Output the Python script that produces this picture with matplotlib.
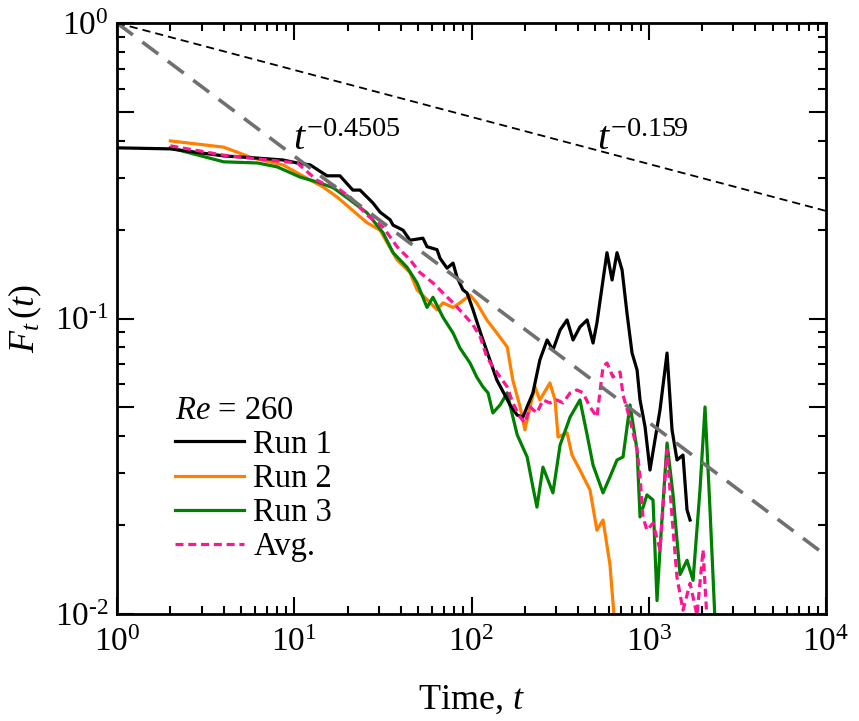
import numpy as np
import matplotlib
matplotlib.use('Agg')
import matplotlib.pyplot as plt
from matplotlib.ticker import LogLocator, NullFormatter

plt.rcParams['font.family'] = ['Liberation Serif', 'DejaVu Serif']
plt.rcParams['mathtext.fontset'] = 'custom'
plt.rcParams['mathtext.rm'] = 'Liberation Serif'
plt.rcParams['mathtext.it'] = 'Liberation Serif:italic'
plt.rcParams['mathtext.bf'] = 'Liberation Serif:bold'

# Run 1 (black)
t_run1 = [1, 2, 4, 6.2, 8.6, 10.4, 12.3, 15.3, 18.1, 21.4, 23.5, 27.8, 30.5, 34.7, 36.1,
          41.1, 45, 53.2, 56.1, 63.9, 66.4, 72.8, 78.7, 82.8, 89.5, 94.4, 102, 112, 127,
          139, 151, 165, 181, 195, 208, 222, 243, 267, 288, 316, 346, 374, 409, 449, 485,
          510, 552, 581, 621, 662, 707, 754, 805, 859, 893, 953, 1016, 1084, 1157, 1268,
          1353, 1443, 1560, 1644, 1710]
F_run1 = [0.378, 0.375, 0.355, 0.349, 0.344, 0.336, 0.331, 0.304, 0.304, 0.272, 0.272,
          0.246, 0.229, 0.216, 0.207, 0.199, 0.184, 0.187, 0.175, 0.171, 0.160, 0.148,
          0.154, 0.138, 0.125, 0.122, 0.107, 0.090, 0.0724, 0.0619, 0.0564, 0.0510,
          0.0471, 0.0464, 0.0510, 0.0560, 0.0724, 0.0846, 0.0782, 0.0914, 0.0989, 0.0846,
          0.0936, 0.0989, 0.0826, 0.0966, 0.135, 0.167, 0.135, 0.167, 0.146, 0.104,
          0.0764, 0.0670, 0.0530, 0.0430, 0.0307, 0.0388, 0.0490, 0.0764, 0.0420,
          0.0332, 0.0345, 0.0225, 0.0208]

# Run 2 (orange)
t_run2 = [2, 4, 5.85, 8.64, 12.3, 14.5, 17.4, 18.8, 25.7, 30.5, 38, 45, 49.3, 56.1, 63.9,
          69, 78.7, 86.1, 98.1, 107, 122, 139, 159, 171, 188, 200, 214, 228, 243, 277,
          296, 308, 346, 369, 409, 466, 510, 552, 604, 640]
F_run2 = [0.399, 0.380, 0.349, 0.331, 0.294, 0.279, 0.258, 0.248, 0.211, 0.199, 0.158,
          0.143, 0.125, 0.116, 0.107, 0.113, 0.109, 0.113, 0.120, 0.113, 0.0989, 0.0893,
          0.0801, 0.0619, 0.0502, 0.0420, 0.0502, 0.0587, 0.0530, 0.0605, 0.0530,
          0.0397, 0.0410, 0.0345, 0.0307, 0.0263, 0.0192, 0.0208, 0.0147, 0.0095]

# Run 3 (green)
t_run3 = [2, 4, 6.2, 8.0, 10.8, 13.4, 16.6, 20.6, 25.7, 31.7, 36.1, 43.3, 49.3, 56.1,
          60.6, 69, 78.7, 86.1, 98.1, 107, 116, 124, 132, 145, 159, 169, 181, 206, 222,
          234, 253, 288, 316, 360, 409, 449, 485, 552, 604, 662, 716, 784, 859, 893, 977,
          1057, 1113, 1157, 1268, 1371, 1501, 1644, 1778, 1945, 2077, 2216, 2365]
F_run3 = [0.378, 0.339, 0.336, 0.326, 0.301, 0.290, 0.277, 0.252, 0.228, 0.195, 0.167,
          0.149, 0.132, 0.109, 0.118, 0.101, 0.0893, 0.0794, 0.0707, 0.0634, 0.0587,
          0.0560, 0.0479, 0.0510, 0.0560, 0.0479, 0.0404, 0.0340, 0.0269, 0.0230,
          0.0314, 0.0257, 0.0373, 0.0464, 0.0530, 0.0404, 0.0319, 0.0257, 0.0291,
          0.0332, 0.0340, 0.0510, 0.0359, 0.0213, 0.0253, 0.0243, 0.0111, 0.0165,
          0.0379, 0.0253, 0.0136, 0.0152, 0.0130, 0.0263, 0.0502, 0.0225, 0.0095]

# Average (pink dashed)
t_avg = [2, 4, 6.17, 10.4, 13.4, 14.5, 16.6, 18.8, 20.6, 25.7, 31.7, 38, 45, 51.2, 60.6,
         69, 78.7, 89.5, 102, 112, 122, 132, 145, 159, 171, 188, 200, 214, 234, 253, 277,
         303, 328, 360, 394, 426, 466, 510, 552, 581, 628, 689, 716, 784, 859, 893, 928,
         977, 1057, 1157, 1268, 1353, 1443, 1560, 1710, 1871, 2024, 2132]
F_avg = [0.384, 0.357, 0.347, 0.336, 0.294, 0.287, 0.283, 0.268, 0.258, 0.224, 0.204,
         0.175, 0.158, 0.143, 0.132, 0.122, 0.113, 0.104, 0.0951, 0.0866, 0.0741, 0.0686,
         0.0634, 0.0587, 0.0518, 0.0464, 0.0443, 0.0502, 0.0479, 0.0530, 0.0518, 0.0530,
         0.0518, 0.0560, 0.0573, 0.0560, 0.0502, 0.0464, 0.0686, 0.0707, 0.0634, 0.0659,
         0.0551, 0.0454, 0.0359, 0.0291, 0.0213, 0.0192, 0.0203, 0.0165, 0.0359, 0.0213,
         0.0133, 0.0103, 0.0127, 0.0099, 0.0165, 0.0095]

# power-law guides
guide_t = np.array([1, 1e4])
slope_fast = 0.4505
slope_slow = 0.159

x_ticks = [1, 10, 100, 1000, 10000]
x_tick_labels = ['$10^{0}$', '$10^{1}$', '$10^{2}$', '$10^{3}$', '$10^{4}$']
y_ticks = [0.01, 0.05, 0.1, 0.5, 1]
y_tick_labels = ['$10^{\u20102}$', '', '$10^{\u20101}$', '', '$10^{0}$']

fig = plt.figure(figsize=(8.59, 7.21), dpi=100)
ax = fig.add_axes([0.1362, 0.1484, 0.8254, 0.8197])

l2, = ax.plot(t_run2, F_run2, color='#ff8000', lw=2.3, label='Run 2')
l3, = ax.plot(t_run3, F_run3, color='#008000', lw=2.3, label='Run 3')
l1, = ax.plot(t_run1, F_run1, color='black', lw=2.3, label='Run 1')
l4, = ax.plot(t_avg, F_avg, color='#ff1493', lw=2.3, ls='--', dashes=(2.5, 1.5), label='Avg.')

ax.plot(guide_t, guide_t ** -slope_fast, color='#707070', lw=2.6, ls='--', dashes=(5.5, 3.3))
ax.plot(guide_t, guide_t ** -slope_slow, color='black', lw=1.3, ls='--', dashes=(4.5, 2.8))

ax.text(9.8, 0.372, r'$t^{-0.4505}$', fontsize=29, ha='left', va='baseline')
ax.text(511, 0.372, r'$t^{-0.159}$', fontsize=29, ha='left', va='baseline')

ax.set_xscale('log')
ax.set_yscale('log')
ax.set_xlim(1, 1e4)
ax.set_ylim(0.01, 1)

ax.set_xticks(x_ticks, x_tick_labels)
ax.set_yticks(y_ticks, y_tick_labels)
ax.xaxis.set_minor_locator(LogLocator(base=10, subs=np.arange(2, 10), numticks=20))
ax.yaxis.set_minor_locator(LogLocator(base=10, subs=(2, 3, 4, 6, 7, 8, 9), numticks=20))
ax.xaxis.set_minor_formatter(NullFormatter())
ax.yaxis.set_minor_formatter(NullFormatter())
ax.tick_params(which='both', direction='in', top=True, right=True, width=1.5)
ax.tick_params(which='major', length=12, labelsize=24)
ax.tick_params(axis='x', which='major', pad=10)
ax.tick_params(axis='y', which='major', pad=6)
ax.tick_params(which='minor', length=6)
for s in ax.spines.values():
    s.set_linewidth(2)

ax.set_xlabel('Time, $t$', fontsize=26, labelpad=18)
ax.set_ylabel(r'$F_t\,(t)$', fontsize=26, labelpad=8)

leg = ax.legend(handles=[l1, l2, l3, l4], title=r'$Re$ = 260', loc='upper left',
                bbox_to_anchor=(0.082, 0.37), frameon=False, fontsize=23.5,
                title_fontsize=23.5, alignment='left', handlelength=2.1,
                handletextpad=0.3, labelspacing=0.11, borderpad=0, borderaxespad=0)

fig.savefig('out.png', dpi=100)
